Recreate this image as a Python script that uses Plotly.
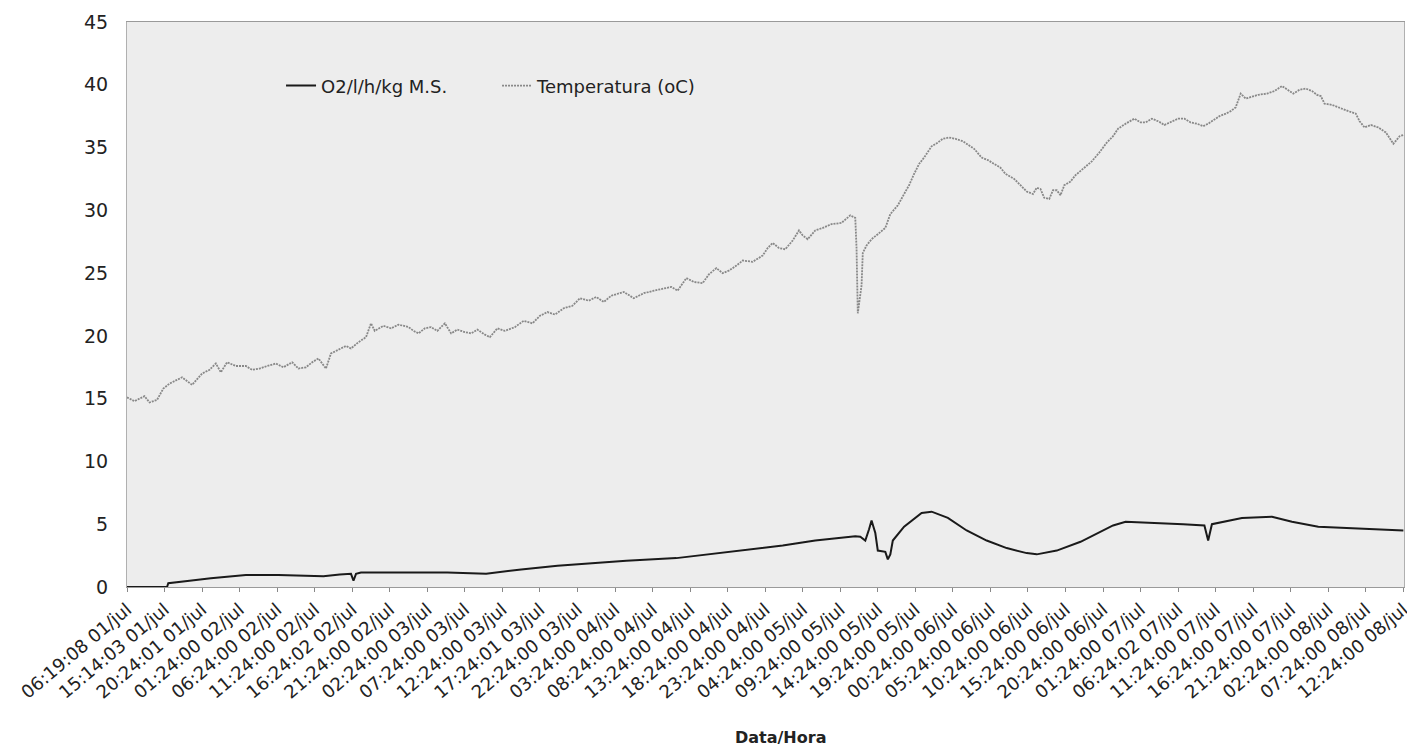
import plotly.graph_objects as go

# ---- data (reading index, 10-min readings; a tick label every 30 readings) ----
tick_labels = [
    "06:19:08 01/jul", "15:14:03 01/jul", "20:24:01 01/jul", "01:24:00 02/jul",
    "06:24:00 02/jul", "11:24:00 02/jul", "16:24:02 02/jul", "21:24:00 02/jul",
    "02:24:00 03/jul", "07:24:00 03/jul", "12:24:00 03/jul", "17:24:01 03/jul",
    "22:24:00 03/jul", "03:24:00 04/jul", "08:24:00 04/jul", "13:24:00 04/jul",
    "18:24:00 04/jul", "23:24:00 04/jul", "04:24:00 05/jul", "09:24:00 05/jul",
    "14:24:00 05/jul", "19:24:00 05/jul", "00:24:00 06/jul", "05:24:00 06/jul",
    "10:24:00 06/jul", "15:24:00 06/jul", "20:24:00 06/jul", "01:24:00 07/jul",
    "06:24:02 07/jul", "11:24:00 07/jul", "16:24:00 07/jul", "21:24:00 07/jul",
    "02:24:00 08/jul", "07:24:00 08/jul", "12:24:00 08/jul",
]
tick_idx = [30 * k for k in range(len(tick_labels))]

temp_idx = [0, 6, 14, 18, 24, 29, 34, 44, 52, 60, 66, 71, 75, 80, 87, 95, 100, 106, 112, 119,
            125, 132, 137, 143, 148, 153, 159, 163, 169, 175, 179, 185, 191, 195, 198, 205, 211, 217, 225, 229,
            233, 238, 243, 248, 254, 259, 264, 270, 275, 280, 286, 290, 296, 302, 310, 317, 324, 330, 336, 342,
            349, 356, 362, 369, 375, 381, 387, 397, 405, 413, 421, 429, 435, 440, 447, 453, 460, 465, 471, 476,
            481, 487, 492, 500, 508, 512, 516, 521, 526, 532, 537, 540, 544, 550, 556, 563, 571, 578, 582, 583,
            584, 587, 588, 591, 595, 600, 606, 610, 616, 621, 625, 629, 633, 637, 643, 648, 652, 657, 662, 668,
            673, 677, 683, 688, 693, 698, 702, 709, 714, 719, 724, 727, 730, 733, 737, 740, 743, 746, 749, 754,
            758, 764, 771, 777, 783, 788, 792, 798, 805, 810, 814, 819, 824, 829, 836, 840, 845, 850, 855, 860,
            864, 869, 873, 878, 882, 886, 890, 894, 898, 904, 911, 917, 923, 928, 932, 937, 942, 947, 951, 954,
            957, 963, 970, 976, 982, 985, 989, 994, 1000, 1006, 1012, 1017, 1020]
temp_val = [15.1, 14.8, 15.2, 14.7, 14.9, 15.8, 16.2, 16.7, 16.1, 17.0, 17.3, 17.8, 17.1, 17.9, 17.6, 17.6, 17.3, 17.4, 17.6, 17.8,
            17.5, 17.9, 17.4, 17.5, 17.9, 18.2, 17.4, 18.6, 18.9, 19.2, 19.0, 19.5, 19.9, 21.0, 20.4, 20.8, 20.6, 20.9, 20.7, 20.4,
            20.2, 20.6, 20.7, 20.4, 21.0, 20.2, 20.5, 20.3, 20.2, 20.5, 20.1, 19.9, 20.6, 20.4, 20.7, 21.2, 21.0, 21.6, 21.9, 21.7,
            22.2, 22.4, 23.0, 22.8, 23.1, 22.7, 23.2, 23.5, 23.0, 23.4, 23.6, 23.8, 23.9, 23.6, 24.6, 24.3, 24.2, 24.9, 25.4, 25.0,
            25.2, 25.6, 26.0, 25.9, 26.4, 27.0, 27.4, 27.0, 26.9, 27.6, 28.4, 28.0, 27.7, 28.4, 28.6, 28.9, 29.0, 29.6, 29.4, 27.0,
            21.8, 24.0, 26.6, 27.2, 27.7, 28.1, 28.6, 29.7, 30.4, 31.3, 32.0, 32.9, 33.7, 34.2, 35.1, 35.4, 35.7, 35.8, 35.7, 35.5,
            35.2, 34.9, 34.2, 34.0, 33.7, 33.4, 32.9, 32.5, 32.0, 31.5, 31.3, 31.8, 31.7, 31.0, 30.9, 31.6, 31.6, 31.2, 32.0, 32.3,
            32.8, 33.3, 33.9, 34.6, 35.4, 35.9, 36.5, 36.9, 37.3, 37.0, 37.0, 37.3, 37.1, 36.8, 37.1, 37.3, 37.3, 37.0, 36.9, 36.7,
            36.9, 37.2, 37.5, 37.7, 37.9, 38.2, 39.3, 38.9, 39.0, 39.2, 39.3, 39.5, 39.9, 39.6, 39.3, 39.6, 39.7, 39.5, 39.2, 39.1,
            38.5, 38.4, 38.1, 37.9, 37.7, 37.1, 36.6, 36.8, 36.6, 36.2, 35.3, 35.9, 36.0]

o2_idx = [0, 32, 33, 38, 50, 67, 82, 95, 121, 145, 157, 170, 179, 181, 183, 187, 226, 256, 287, 315,
          344, 368, 399, 439, 475, 502, 524, 550, 582, 586, 590, 593, 595, 598, 600, 606, 608, 610, 612, 621,
          635, 643, 656, 671, 687, 703, 719, 727, 743, 762, 778, 788, 798, 825, 844, 861, 864, 867, 891, 915,
          931, 952, 973, 997, 1020]
o2_val = [0.0, 0.0, 0.3, 0.35, 0.5, 0.7, 0.85, 0.95, 0.95, 0.85, 0.85, 1.0, 1.05, 0.5, 1.05, 1.15, 1.15, 1.15, 1.05, 1.4,
          1.7, 1.9, 2.1, 2.3, 2.7, 3.0, 3.3, 3.7, 4.05, 4.0, 3.7, 4.6, 5.3, 4.3, 2.9, 2.8, 2.2, 2.6, 3.7, 4.8,
          5.9, 6.0, 5.5, 4.5, 3.7, 3.1, 2.7, 2.6, 2.9, 3.6, 4.4, 4.9, 5.2, 5.1, 5.0, 4.9, 3.7, 5.0, 5.5, 5.6,
          5.2, 4.8, 4.7, 4.6, 4.5]

font_family = "DejaVu Sans"

fig = go.Figure()
fig.add_trace(go.Scatter(x=o2_idx, y=o2_val, mode="lines", name="O2/l/h/kg M.S.",
                         line=dict(color="#1a1a1a", width=2)))
fig.add_trace(go.Scatter(x=temp_idx, y=temp_val, mode="lines", name="Temperatura (oC)",
                         line=dict(color="#888888", width=1.8, dash="2px,1px")))

fig.update_layout(
    width=1407, height=738,
    margin=dict(l=119, r=3, t=13, b=159),
    paper_bgcolor="white",
    plot_bgcolor="#ededed",
    font=dict(family=font_family, color="#222222", size=17),
    showlegend=True,
    legend=dict(orientation="h", x=(282 - 127) / 1285, xanchor="left",
                y=(587 - 85) / 566, yanchor="middle",
                bgcolor="rgba(0,0,0,0)", font=dict(size=18, color="#222222"),
                entrywidth=171, entrywidthmode="pixels"),
    annotations=[dict(text="<b>Data/Hora</b>", xref="paper", yref="paper",
                      x=(785 - 127) / 1285, y=(587 - 738) / 566,
                      xanchor="center", yanchor="middle", showarrow=False,
                      font=dict(size=16, color="#222222"))],
)
fig.update_xaxes(range=[0, 1020.5], tickmode="array", tickvals=tick_idx, ticktext=tick_labels,
                 tickangle=-40, tickfont=dict(size=18), showgrid=False, zeroline=False,
                 ticklabeloverflow="allow",
                 ticks="outside", ticklen=4, tickcolor="#888888",
                 showline=True, linecolor="#9a9a9a", linewidth=1, mirror=True)
fig.update_yaxes(range=[0, 45], dtick=5, tickfont=dict(size=19), showgrid=False, zeroline=False,
                 ticks="", ticklabelstandoff=14,
                 showline=True, linecolor="#b0b0b0", linewidth=1, mirror=True)

fig.write_html("out.html")
